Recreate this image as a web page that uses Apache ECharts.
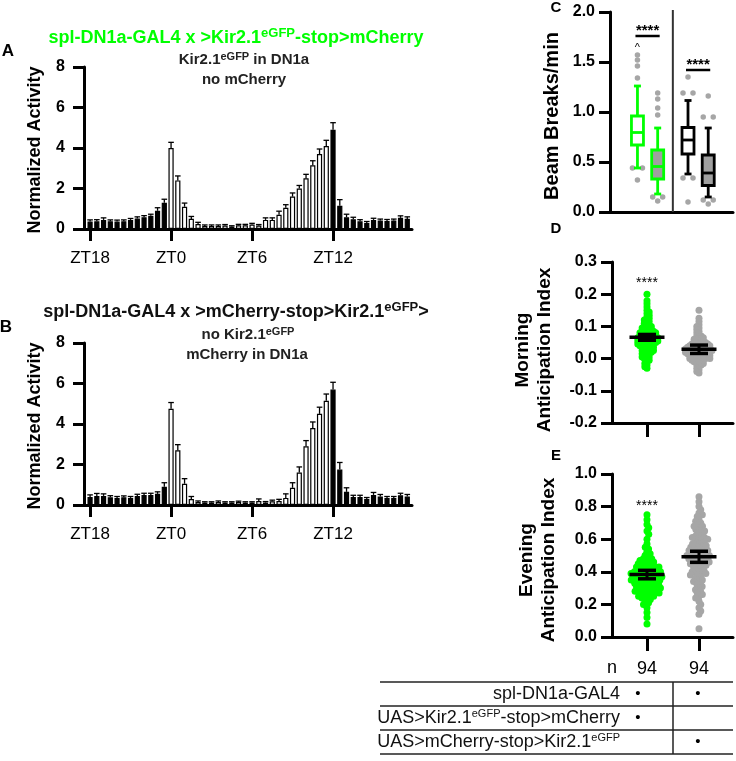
<!DOCTYPE html>
<html><head><meta charset="utf-8">
<script src="https://cdn.jsdelivr.net/npm/echarts@6/dist/echarts.min.js"></script>
<style>html,body{margin:0;padding:0;background:#fff}#c{width:736px;height:761px}</style>
</head><body><div id="c"></div>
<script>
// ================= DATA =================
const zeitgeberLabels = ['ZT18', 'ZT0', 'ZT6', 'ZT12'];
const zeitgeberBins = [0, 12, 24, 36];

// Panel A: spl-DN1a-GAL4 x >Kir2.1eGFP-stop>mCherry (30-min bins from ZT18)
const activityA = [0.37,0.38,0.45,0.38,0.37,0.38,0.45,0.52,0.58,0.65,0.9,1.3,
  4.0,2.4,1.1,0.5,0.25,0.15,0.15,0.15,0.17,0.12,0.18,0.18,
  0.22,0.17,0.45,0.45,0.7,1.05,1.6,2.0,2.5,3.15,3.7,4.1,
  4.9,1.15,0.58,0.48,0.38,0.3,0.45,0.42,0.4,0.42,0.55,0.5];
const semA = [0.08,0.08,0.1,0.07,0.07,0.07,0.07,0.08,0.08,0.08,0.15,0.17,
  0.28,0.22,0.18,0.12,0.08,0.05,0.05,0.05,0.05,0.04,0.05,0.05,
  0.06,0.05,0.1,0.1,0.18,0.15,0.18,0.15,0.2,0.22,0.25,0.28,
  0.35,0.3,0.15,0.1,0.08,0.07,0.08,0.07,0.07,0.07,0.1,0.1];

// Panel B: spl-DN1a-GAL4 x >mCherry-stop>Kir2.1eGFP>
const activityB = [0.4,0.45,0.45,0.38,0.35,0.38,0.35,0.45,0.5,0.5,0.55,0.9,
  4.75,2.7,1.05,0.3,0.15,0.12,0.12,0.15,0.12,0.12,0.15,0.12,
  0.12,0.2,0.12,0.18,0.2,0.35,0.85,1.6,2.9,3.8,4.5,5.15,
  5.7,1.75,0.65,0.4,0.4,0.3,0.5,0.42,0.35,0.35,0.48,0.42];
const semB = [0.1,0.12,0.1,0.08,0.07,0.07,0.07,0.08,0.08,0.08,0.1,0.2,
  0.31,0.28,0.25,0.12,0.05,0.04,0.04,0.05,0.04,0.04,0.04,0.04,
  0.04,0.1,0.05,0.06,0.08,0.2,0.25,0.28,0.28,0.3,0.33,0.33,
  0.36,0.35,0.2,0.08,0.08,0.07,0.12,0.1,0.07,0.07,0.1,0.1];

// Panel C: beam breaks/min boxplots [whiskerLow, q1, median, q3, whiskerHigh]
const boxGenotype = [1, 1, 2, 2];      // 1 = Kir2.1eGFP-stop>mCherry, 2 = mCherry-stop>Kir2.1eGFP
const boxCondition = [0, 1, 0, 1];     // 0 = open box, 1 = filled box
const boxStats = [
  [0.44, 0.67, 0.795, 0.96, 1.26],
  [0.18, 0.33, 0.455, 0.62, 0.84],
  [0.38, 0.58, 0.72, 0.845, 1.115],
  [0.15, 0.265, 0.39, 0.57, 0.84]
];
const boxOutliers = [
  [1.57, 1.52, 1.46, 1.34, 0.44, 0.44, 0.32],
  [1.19, 1.13, 1.04, 0.97, 0.15, 0.15, 0.11],
  [1.35, 1.19, 1.19, 0.34, 0.34, 0.10],
  [1.16, 0.95, 0.95, 0.12, 0.12, 0.08]
];
const boxSigY = [1.76, 1.42];
const sigLabel = '****';

// Panel D: morning anticipation index (n = 94 each)
const morningKir = [0.20,0.18,0.17,0.16,0.15,0.145,0.14,0.135,0.13,0.125,
  0.12,0.12,0.115,0.11,0.11,0.105,0.10,0.10,0.10,0.095,
  0.095,0.09,0.09,0.09,0.085,0.085,0.085,0.08,0.08,0.08,
  0.08,0.075,0.075,0.075,0.07,0.07,0.07,0.07,0.065,0.065,
  0.065,0.065,0.06,0.06,0.06,0.06,0.055,0.055,0.055,0.055,
  0.05,0.05,0.05,0.05,0.045,0.045,0.045,0.04,0.04,0.04,
  0.04,0.035,0.035,0.035,0.03,0.03,0.03,0.025,0.025,0.025,
  0.02,0.02,0.02,0.015,0.015,0.01,0.01,0.005,0.005,0.0,
  0.0,-0.005,-0.01,-0.015,-0.02,-0.025,-0.03,0.07,0.06,0.05,
  0.08,0.065,0.055,0.045];
const morningCtrl = [0.15,0.125,0.115,0.105,0.10,0.095,0.09,0.085,0.08,0.075,
  0.07,0.07,0.065,0.065,0.06,0.06,0.06,0.055,0.055,0.05,
  0.05,0.05,0.05,0.045,0.045,0.045,0.045,0.04,0.04,0.04,
  0.04,0.04,0.035,0.035,0.035,0.035,0.035,0.03,0.03,0.03,
  0.03,0.03,0.03,0.025,0.025,0.025,0.025,0.025,0.02,0.02,
  0.02,0.02,0.02,0.02,0.015,0.015,0.015,0.015,0.015,0.01,
  0.01,0.01,0.01,0.01,0.005,0.005,0.005,0.005,0.0,0.0,
  0.0,0.0,0.0,-0.005,-0.005,-0.005,-0.01,-0.01,-0.01,-0.015,
  -0.015,-0.02,-0.02,-0.025,-0.03,-0.035,-0.04,-0.045,0.03,0.02,
  0.01,0.0,0.04,0.025];
const morningMean = [0.066, 0.029];
const morningSem = [0.009, 0.013];
const morningSigY = 0.235;

// Panel E: evening anticipation index (n = 94 each)
const eveningKir = [0.75,0.72,0.69,0.67,0.65,0.63,0.60,0.57,0.55,0.54,
  0.52,0.51,0.50,0.49,0.48,0.48,0.47,0.47,0.46,0.46,
  0.45,0.45,0.44,0.44,0.44,0.43,0.43,0.42,0.42,0.42,
  0.41,0.41,0.41,0.40,0.40,0.40,0.40,0.39,0.39,0.39,
  0.38,0.38,0.38,0.37,0.37,0.37,0.36,0.36,0.36,0.35,
  0.35,0.35,0.34,0.34,0.34,0.33,0.33,0.33,0.32,0.32,
  0.32,0.31,0.31,0.30,0.30,0.30,0.29,0.29,0.29,0.28,
  0.28,0.28,0.27,0.27,0.26,0.26,0.25,0.25,0.24,0.24,
  0.23,0.22,0.21,0.20,0.18,0.15,0.12,0.08,0.43,0.39,
  0.35,0.31,0.27,0.37];
const eveningCtrl = [0.86,0.83,0.80,0.78,0.76,0.75,0.74,0.72,0.71,0.70,
  0.69,0.68,0.67,0.66,0.65,0.65,0.64,0.63,0.62,0.62,
  0.61,0.60,0.60,0.59,0.58,0.58,0.57,0.56,0.56,0.55,
  0.55,0.54,0.54,0.53,0.53,0.52,0.52,0.51,0.51,0.50,
  0.50,0.50,0.49,0.49,0.48,0.48,0.47,0.47,0.46,0.46,
  0.45,0.45,0.44,0.44,0.43,0.43,0.42,0.41,0.41,0.40,
  0.40,0.39,0.38,0.38,0.37,0.36,0.35,0.35,0.34,0.33,
  0.32,0.31,0.30,0.29,0.28,0.27,0.26,0.25,0.24,0.22,
  0.20,0.18,0.16,0.14,0.05,0.57,0.53,0.49,0.45,0.61,
  0.39,0.51,0.47,0.68];
const eveningMean = [0.383, 0.492];
const eveningSem = [0.026, 0.034];
const eveningSigY = 0.80;
const groupN = [94, 94];

// Table rows
const tableRows = ['spl-DN1a-GAL4', 'UAS>Kir2.1{sup|eGFP}-stop>mCherry', 'UAS>mCherry-stop>Kir2.1{sup|eGFP}'];
const tableMarks = [[1, 1], [1, 0], [0, 1]];

// ================= STYLE / LAYOUT =================
const FONT = "'Liberation Sans', Arial, Helvetica, sans-serif";
const GREEN = '#00ff00', DOT_GREY = '#a6a6a6', BOX_GREY = '#a0a0a0';
const groupColors = [GREEN, DOT_GREY];
const gridA = {left: 84, top: 67, width: 328, height: 162};
const gridB = {left: 84, top: 343, width: 328, height: 162};
const gridC = {left: 610, top: 12, width: 123, height: 200};
const gridD = {left: 612, top: 262, width: 121, height: 161};
const gridE = {left: 612, top: 474, width: 121, height: 163};
const xBarRange = [-0.9, 47.7];
const xGroupRange = [0.327, 2.654];
const xBoxRange = [0.257, 2.69];
const condOffset = [-0.2, 0.2];

function isLight(i) { const zt = (18 + i * 0.5) % 24; return zt < 12; }

const axisLineStyle = {color: '#000', width: 3};
function yAxisCfg(gi, min, max, interval, digits) {
  return {gridIndex: gi, type: 'value', min, max, interval,
    axisLine: {show: true, onZero: false, lineStyle: axisLineStyle},
    axisTick: {show: true, length: 11, lineStyle: {color: '#000', width: 3}},
    axisLabel: {fontSize: 16, fontWeight: 'bold', color: '#000', fontFamily: FONT, margin: gi < 2 ? 19 : 15,
      formatter: v => digits ? (Math.round(v * 10) / 10).toFixed(digits) : String(Math.round(v))},
    splitLine: {show: false}};
}
function barX(gi) {
  return {gridIndex: gi, type: 'value', min: xBarRange[0], max: xBarRange[1],
    axisLine: {show: true, onZero: false, lineStyle: axisLineStyle},
    axisTick: {show: true, customValues: zeitgeberBins, length: 12, lineStyle: {color: '#000', width: 3}},
    axisLabel: {customValues: zeitgeberBins, formatter: v => zeitgeberLabels[zeitgeberBins.indexOf(Math.round(v))],
      fontSize: 17, color: '#000', fontFamily: FONT, margin: 21},
    splitLine: {show: false}};
}
function groupX(gi, showN) {
  return {gridIndex: gi, type: 'value', min: xGroupRange[0], max: xGroupRange[1],
    axisLine: {show: true, onZero: false, lineStyle: axisLineStyle},
    axisTick: {show: true, customValues: [1, 2], length: 14, lineStyle: {color: '#000', width: 3}},
    axisLabel: {show: showN, customValues: [1, 2], formatter: v => String(groupN[Math.round(v) - 1]),
      fontSize: 18, color: '#000', fontFamily: FONT, margin: 23},
    splitLine: {show: false}};
}

function barSeries(vals, gi) {
  return {type: 'bar', xAxisIndex: gi, yAxisIndex: gi, barWidth: 5.2, animation: false,
    data: vals.map((v, i) => ({value: [i, v], itemStyle: {color: isLight(i) ? '#fff' : '#000', borderColor: '#000', borderWidth: 1.2}}))};
}
function errSeries(vals, sems, gi) {
  return {type: 'custom', xAxisIndex: gi, yAxisIndex: gi, z: 5, animation: false, encode: {x: 0, y: 1},
    data: vals.map((v, i) => [i, v, sems[i]]),
    renderItem: (p, api) => {
      const x = api.value(0), v = api.value(1), e = api.value(2);
      const a = api.coord([x, v]), b = api.coord([x, v + e]);
      return {type: 'group', children: [
        {type: 'line', shape: {x1: a[0], y1: a[1], x2: b[0], y2: b[1]}, style: {stroke: '#000', lineWidth: 1.3}},
        {type: 'line', shape: {x1: b[0] - 2.8, y1: b[1], x2: b[0] + 2.8, y2: b[1]}, style: {stroke: '#000', lineWidth: 1.3}}]};
    }};
}

// beeswarm offsets (pixels) so that dot centres keep at least distance d
function swarm(values, d, pxPerY) {
  const order = values.map((v, i) => i).sort((a, b) => values[b] - values[a]);
  const placed = [], off = new Array(values.length);
  let flip = 1;
  for (const i of order) {
    const y = values[i] * pxPerY;
    const near = placed.filter(p => Math.abs(p.y - y) < d);
    const cands = [0];
    near.forEach(p => { const h = Math.sqrt(d * d - (p.y - y) ** 2); cands.push(p.x + h, p.x - h); });
    cands.sort((a, b) => Math.abs(a) - Math.abs(b) || (a - b) * flip);
    flip = -flip;
    let x = 0;
    for (const c of cands) { if (near.every(p => (p.x - c) ** 2 + (p.y - y) ** 2 >= d * d - 1e-6)) { x = c; break; } }
    placed.push({x, y}); off[i] = x;
  }
  return off;
}
function clusterOffsets(values, d) {
  const off = new Array(values.length).fill(0);
  const used = new Array(values.length).fill(false);
  for (let i = 0; i < values.length; i++) {
    if (used[i]) continue;
    const grp = [];
    for (let j = i; j < values.length; j++) if (!used[j] && Math.abs(values[j] - values[i]) < 0.015) { grp.push(j); used[j] = true; }
    grp.forEach((j, k) => { off[j] = (k - (grp.length - 1) / 2) * d; });
  }
  return off;
}

function swarmSeries(gi, grid, yRange, lists, d) {
  const pxY = grid.height / (yRange[1] - yRange[0]);
  const pxX = grid.width / (xGroupRange[1] - xGroupRange[0]);
  return lists.map((vals, g) => {
    const off = swarm(vals, d, pxY);
    return {type: 'scatter', xAxisIndex: gi, yAxisIndex: gi, symbolSize: 7, animation: false,
      itemStyle: {color: groupColors[g], opacity: 1},
      data: vals.map((v, i) => [g + 1 + off[i] / pxX, v])};
  });
}
function meanSemSeries(gi, means, sems) {
  return {type: 'custom', xAxisIndex: gi, yAxisIndex: gi, z: 6, animation: false, encode: {x: 0, y: 1},
    data: means.map((m, i) => [i + 1, m, sems[i]]),
    renderItem: (p, api) => {
      const x = api.value(0), m = api.value(1), s = api.value(2);
      const c = api.coord([x, m]), hi = api.coord([x, m + s]), lo = api.coord([x, m - s]);
      const st = {stroke: '#000', lineWidth: 3.5};
      return {type: 'group', children: [
        {type: 'line', shape: {x1: c[0] - 17.5, y1: c[1], x2: c[0] + 17.5, y2: c[1]}, style: st},
        {type: 'line', shape: {x1: c[0], y1: hi[1], x2: c[0], y2: lo[1]}, style: {stroke: '#000', lineWidth: 3}},
        {type: 'line', shape: {x1: c[0] - 9, y1: hi[1], x2: c[0] + 9, y2: hi[1]}, style: st},
        {type: 'line', shape: {x1: c[0] - 9, y1: lo[1], x2: c[0] + 9, y2: lo[1]}, style: st}]};
    }};
}
function starSeries(gi, y) {
  return {type: 'custom', xAxisIndex: gi, yAxisIndex: gi, z: 6, animation: false, encode: {x: 0, y: 1},
    data: [[1, y]],
    renderItem: (p, api) => {
      const c = api.coord([api.value(0), api.value(1)]);
      return {type: 'text', style: {text: sigLabel, x: c[0], y: c[1], align: 'center', verticalAlign: 'middle',
        fontSize: 14, fontFamily: FONT, fill: '#000'}};
    }};
}

// Panel C series
const boxStyle = [
  {stroke: GREEN, fill: '#fff'}, {stroke: GREEN, fill: BOX_GREY},
  {stroke: '#000', fill: '#fff'}, {stroke: '#000', fill: BOX_GREY}];
const boxX = boxGenotype.map((g, i) => g + condOffset[boxCondition[i]]);
const boxSeries = {type: 'custom', xAxisIndex: 2, yAxisIndex: 2, z: 4, animation: false, encode: {x: 0, y: [1, 2, 3, 4, 5]},
  data: boxStats.map((s, i) => [boxX[i]].concat(s)),
  renderItem: (p, api) => {
    const st = boxStyle[p.dataIndex];
    const x = api.value(0);
    const y = [1, 2, 3, 4, 5].map(k => api.coord([x, api.value(k)])[1]);
    const px = api.coord([x, 0])[0];
    const hw = 6, cw = 3.5, lw = 2.8;
    const ls = {stroke: st.stroke, lineWidth: lw};
    return {type: 'group', children: [
      {type: 'line', shape: {x1: px, y1: y[4], x2: px, y2: y[3]}, style: ls},
      {type: 'line', shape: {x1: px, y1: y[1], x2: px, y2: y[0]}, style: ls},
      {type: 'line', shape: {x1: px - cw, y1: y[4], x2: px + cw, y2: y[4]}, style: ls},
      {type: 'line', shape: {x1: px - cw, y1: y[0], x2: px + cw, y2: y[0]}, style: ls},
      {type: 'rect', shape: {x: px - hw, y: y[3], width: 2 * hw, height: y[1] - y[3]}, style: {fill: st.fill, stroke: st.stroke, lineWidth: lw}},
      {type: 'line', shape: {x1: px - hw, y1: y[2], x2: px + hw, y2: y[2]}, style: ls}]};
  }};
const pxXC = gridC.width / (xBoxRange[1] - xBoxRange[0]);
const outlierData = [];
boxOutliers.forEach((vals, b) => {
  const off = clusterOffsets(vals, 10);
  vals.forEach((v, i) => outlierData.push([boxX[b] + off[i] / pxXC, v]));
});
const outlierSeries = {type: 'scatter', xAxisIndex: 2, yAxisIndex: 2, symbolSize: 5.5, animation: false,
  itemStyle: {color: DOT_GREY, opacity: 1}, data: outlierData, z: 3};
const dividerSeries = {type: 'custom', xAxisIndex: 2, yAxisIndex: 2, animation: false, encode: {x: 0, y: 1},
  data: [[1.5, 2.0]],
  renderItem: (p, api) => {
    const t = api.coord([api.value(0), api.value(1)]), b = api.coord([api.value(0), 0]);
    return {type: 'line', shape: {x1: t[0], y1: t[1] - 2, x2: b[0], y2: b[1]}, style: {stroke: '#333', lineWidth: 2}};
  }};
const sigSeries = {type: 'custom', xAxisIndex: 2, yAxisIndex: 2, z: 6, animation: false, encode: {x: 0, y: 1},
  data: boxSigY.map((y, g) => [g + 1, y]),
  renderItem: (p, api) => {
    const g = api.value(0), y = api.value(1);
    const a = api.coord([g + condOffset[0], y]), b = api.coord([g + condOffset[1], y]);
    return {type: 'group', children: [
      {type: 'line', shape: {x1: a[0] - 2, y1: a[1], x2: b[0] + 2, y2: b[1]}, style: {stroke: '#000', lineWidth: 2.5}},
      {type: 'text', style: {text: sigLabel, x: (a[0] + b[0]) / 2, y: a[1] + 2, align: 'center', verticalAlign: 'bottom',
        fontSize: 15, fontWeight: 'bold', fontFamily: FONT, fill: '#000'}}]};
  }};
const caretSeries = {type: 'custom', xAxisIndex: 2, yAxisIndex: 2, animation: false, encode: {x: 0, y: 1},
  data: [[boxX[0], 1.64]],
  renderItem: (p, api) => {
    const c = api.coord([api.value(0), api.value(1)]);
    return {type: 'text', style: {text: '^', x: c[0], y: c[1], align: 'center', verticalAlign: 'middle', fontSize: 11, fontFamily: FONT, fill: '#000'}};
  }};

// ================= TEXT (graphic) =================
function txt(x, y, text, o) {
  o = o || {};
  return {type: 'text', x, y, rotation: o.rot || 0, silent: true,
    style: {text, align: o.align || 'center', verticalAlign: 'middle', fill: o.fill || '#000',
      fontSize: o.size || 16, fontWeight: o.weight || 'normal', fontFamily: FONT, lineHeight: o.lh,
      rich: {sup: {fontSize: o.supSize || 11, fontWeight: o.weight || 'normal', fontFamily: FONT, fill: o.fill || '#000', padding: [0, 0, o.supPad || 9, 0]}}}};
}
const graphics = [
  txt(8, 51, 'A', {size: 17, weight: 'bold'}),
  txt(6, 327, 'B', {size: 17, weight: 'bold'}),
  txt(556, 8, 'C', {size: 15, weight: 'bold'}),
  txt(556, 229, 'D', {size: 15, weight: 'bold'}),
  txt(556, 456, 'E', {size: 15, weight: 'bold'}),
  txt(236, 38, 'spl-DN1a-GAL4 x >Kir2.1{sup|eGFP}-stop>mCherry', {size: 18, weight: 'bold', fill: GREEN, supSize: 13, supPad: 9}),
  txt(244, 60, 'Kir2.1{sup|eGFP} in DN1a', {size: 15, weight: 'bold', fill: '#222', supSize: 11, supPad: 7}),
  txt(244, 80, 'no mCherry', {size: 15, weight: 'bold', fill: '#222'}),
  txt(236, 312, 'spl-DN1a-GAL4 x >mCherry-stop>Kir2.1{sup|eGFP}>', {size: 18, weight: 'bold', fill: '#111', supSize: 13, supPad: 9}),
  txt(248, 335, 'no Kir2.1{sup|eGFP}', {size: 15, weight: 'bold', fill: '#222', supSize: 11, supPad: 7}),
  txt(247, 355, 'mCherry in DN1a', {size: 15, weight: 'bold', fill: '#222'}),
  txt(35, 150, 'Normalized Activity', {size: 18, weight: 'bold', rot: Math.PI / 2}),
  txt(35, 426, 'Normalized Activity', {size: 18, weight: 'bold', rot: Math.PI / 2}),
  txt(552, 116, 'Beam Breaks/min', {size: 20, weight: 'bold', rot: Math.PI / 2}),
  txt(534, 350, 'Morning\nAnticipation Index', {size: 19, weight: 'bold', rot: Math.PI / 2, lh: 22}),
  txt(538, 560, 'Evening\nAnticipation Index', {size: 19, weight: 'bold', rot: Math.PI / 2, lh: 22}),
  txt(612, 668, 'n', {size: 18})
];
const tableLineY = [682, 706, 730, 754];
tableLineY.forEach(y => graphics.push({type: 'line', silent: true, shape: {x1: 380, y1: y, x2: 733, y2: y}, style: {stroke: '#222', lineWidth: 1.5}}));
graphics.push({type: 'line', silent: true, shape: {x1: 673, y1: 682, x2: 673, y2: 754}, style: {stroke: '#222', lineWidth: 1.5}});
const colX = [638, 698];
tableRows.forEach((r, i) => {
  const y = 694 + 24 * i;
  graphics.push(txt(620, y, r, {size: 18, align: 'right', supSize: 11, supPad: 8, fill: '#111'}));
  tableMarks[i].forEach((m, j) => { if (m) graphics.push(txt(colX[j], y, '•', {size: 15})); });
});

// ================= CHART =================
const chart = echarts.init(document.getElementById('c'), null, {renderer: 'canvas'});
chart.setOption({
  animation: false,
  backgroundColor: '#fff',
  grid: [gridA, gridB, gridC, gridD, gridE].map(g => Object.assign({containLabel: false}, g)),
  xAxis: [barX(0), barX(1),
    {gridIndex: 2, type: 'value', min: xBoxRange[0], max: xBoxRange[1],
      axisLine: {show: true, onZero: false, lineStyle: axisLineStyle}, axisTick: {show: false}, axisLabel: {show: false}, splitLine: {show: false}},
    groupX(3, false), groupX(4, true)],
  yAxis: [yAxisCfg(0, 0, 8, 2, 0), yAxisCfg(1, 0, 8, 2, 0), yAxisCfg(2, 0, 2, 0.5, 1),
    yAxisCfg(3, -0.2, 0.3, 0.1, 1), yAxisCfg(4, 0, 1, 0.2, 1)],
  series: [
    barSeries(activityA, 0), errSeries(activityA, semA, 0),
    barSeries(activityB, 1), errSeries(activityB, semB, 1),
    dividerSeries, outlierSeries, boxSeries, sigSeries, caretSeries,
    ...swarmSeries(3, gridD, [-0.2, 0.3], [morningKir, morningCtrl], 2.7),
    meanSemSeries(3, morningMean, morningSem), starSeries(3, morningSigY),
    ...swarmSeries(4, gridE, [0, 1], [eveningKir, eveningCtrl], 3.7),
    meanSemSeries(4, eveningMean, eveningSem), starSeries(4, eveningSigY)
  ],
  graphic: graphics
});
</script></body></html>
